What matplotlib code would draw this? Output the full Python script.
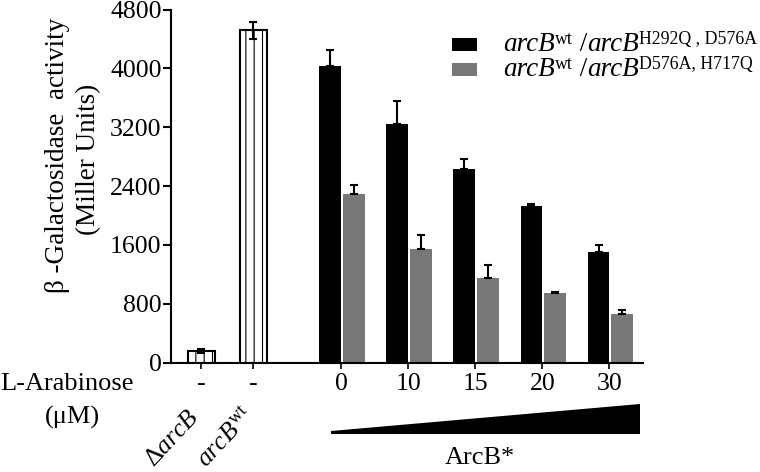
import matplotlib
matplotlib.use('Agg')
import matplotlib.pyplot as plt
from matplotlib.patches import Polygon, Rectangle

plt.rcParams['font.family'] = ['Liberation Serif', 'DejaVu Serif']
plt.rcParams['mathtext.fontset'] = 'custom'
plt.rcParams['mathtext.rm'] = 'Liberation Serif'
plt.rcParams['mathtext.it'] = 'Liberation Serif:italic'
plt.rcParams['hatch.linewidth'] = 0.8

# controls (no arabinose)
ctrl_pos = [-2.08, -1.31]
ctrl_vals = [160, 4520]
ctrl_err = [25, 115]
ctrl_names = [r"$\Delta\mathit{arcB}$", r"$\mathit{arcB}^{\mathrm{wt}}$"]

# arabinose titration
arab_uM = ['0', '10', '15', '20', '30']
grp_pos = [0, 1, 2, 3, 4]
h292q_vals = [4036, 3244, 2628, 2130, 1508]
h292q_err = [214, 317, 144, 31, 92]
h717q_vals = [2297, 1545, 1155, 951, 658]
h717q_err = [118, 190, 177, 10, 58]

# legend labels as (text, superscript?, italic?) pieces
lab_h292q = [('arcB', False, True), ('wt', True, False), (' /', False, False),
             ('arcB', False, True), ('H292Q , D576A', True, False)]
lab_h717q = [('arcB', False, True), ('wt', True, False), (' /', False, False),
             ('arcB', False, True), ('D576A, H717Q', True, False)]

W, H = 760, 472
fig = plt.figure(figsize=(W / 100, H / 100), dpi=100)
ax = fig.add_axes([171 / W, 1 - 362.7 / H, (643 - 171) / W, (362.7 - 9.5) / H])

# control bars, white with vertical hatching
ax.bar(ctrl_pos, ctrl_vals, width=0.40, color='white', edgecolor='black',
       linewidth=1.5, hatch='||', zorder=2)
ax.errorbar(ctrl_pos, ctrl_vals, yerr=ctrl_err, fmt='none', ecolor='black',
            elinewidth=1.5, capsize=2.6, capthick=1.5, zorder=3)

# grouped bars
bw = 0.325
xb = [p - bw for p in grp_pos]
xg = [p + 0.03 for p in grp_pos]
ax.bar(xb, h292q_vals, width=bw, align='edge', color='black', zorder=2)
ax.bar(xg, h717q_vals, width=bw, align='edge', color='#777777', zorder=2)
ax.errorbar([x + bw / 2 for x in xb], h292q_vals,
            yerr=[[0] * 5, h292q_err], fmt='none', ecolor='black',
            elinewidth=1.5, capsize=2.6, capthick=1.5, zorder=3)
ax.errorbar([x + bw / 2 for x in xg], h717q_vals,
            yerr=[[0] * 5, h717q_err], fmt='none', ecolor='black',
            elinewidth=1.5, capsize=2.6, capthick=1.5, zorder=3)

ax.set_xlim(-2.533, 4.50)
ax.set_ylim(0, 4800)
ax.set_yticks(range(0, 4801, 800))
ax.set_xticks(ctrl_pos + grp_pos)
ax.set_xticklabels(['-', '-'] + arab_uM)
for s in ['top', 'right']:
    ax.spines[s].set_visible(False)
for s in ['left', 'bottom']:
    ax.spines[s].set_linewidth(1.5)
ax.tick_params(axis='y', length=5.8, width=1.5, labelsize=18.5, pad=1)
ax.tick_params(axis='x', length=4.3, width=1.2, labelsize=18.5, pad=3)

# y label (two lines)
fig.text(58 / W, 1 - 155 / H, u"\u03b2 -Galactosidase  activity", rotation=90,
         ha='center', va='center', fontsize=19.5)
fig.text(89 / W, 1 - 159 / H, "(Miller Units)", rotation=90,
         ha='center', va='center', fontsize=19.5)

# row labels under x axis
fig.text(67 / W, 1 - 384 / H, "L-Arabinose", ha='center', va='center', fontsize=19)
fig.text(72 / W, 1 - 417 / H, u"(\u03bcM)", ha='center', va='center', fontsize=19)

# strain names rotated
fig.text(204 / W, 1 - 406 / H, ctrl_names[0], rotation=47, ha='right', va='top',
         fontsize=18.5)
fig.text(259 / W, 1 - 403 / H, ctrl_names[1], rotation=47, ha='right', va='top',
         fontsize=18.5)

# ArcB* gradient wedge
wedge = Polygon([(331 / W, 38 / H), (640 / W, 38 / H), (640 / W, 68 / H),
                 (331 / W, 41 / H)], closed=True, transform=fig.transFigure,
                facecolor='black', edgecolor='none')
fig.patches.append(wedge)
fig.text(480 / W, 1 - 458 / H, "ArcB*", ha='center', va='center', fontsize=19)

# legend drawn by hand, text built from pieces so superscripts stay small
renderer = fig.canvas.get_renderer()


def rich_text(x_px, base_px, pieces, size=19.5, sup_size=12.8, rise=7):
    x = x_px
    for txt, sup, it in pieces:
        t = fig.text(x / W, 1 - (base_px - (rise if sup else 0)) / H, txt,
                     ha='left', va='baseline', fontsize=sup_size if sup else size,
                     style='italic' if it else 'normal')
        x += t.get_window_extent(renderer).width


for y0, col, lab in [(38.3, 'black', lab_h292q), (63.3, '#777777', lab_h717q)]:
    fig.patches.append(Rectangle((452 / W, 1 - (y0 + 12.5) / H), 25 / W, 12.5 / H,
                                 transform=fig.transFigure, facecolor=col,
                                 edgecolor='none'))
    rich_text(503, y0 + 13, lab)

fig.savefig('out.png', dpi=100)
